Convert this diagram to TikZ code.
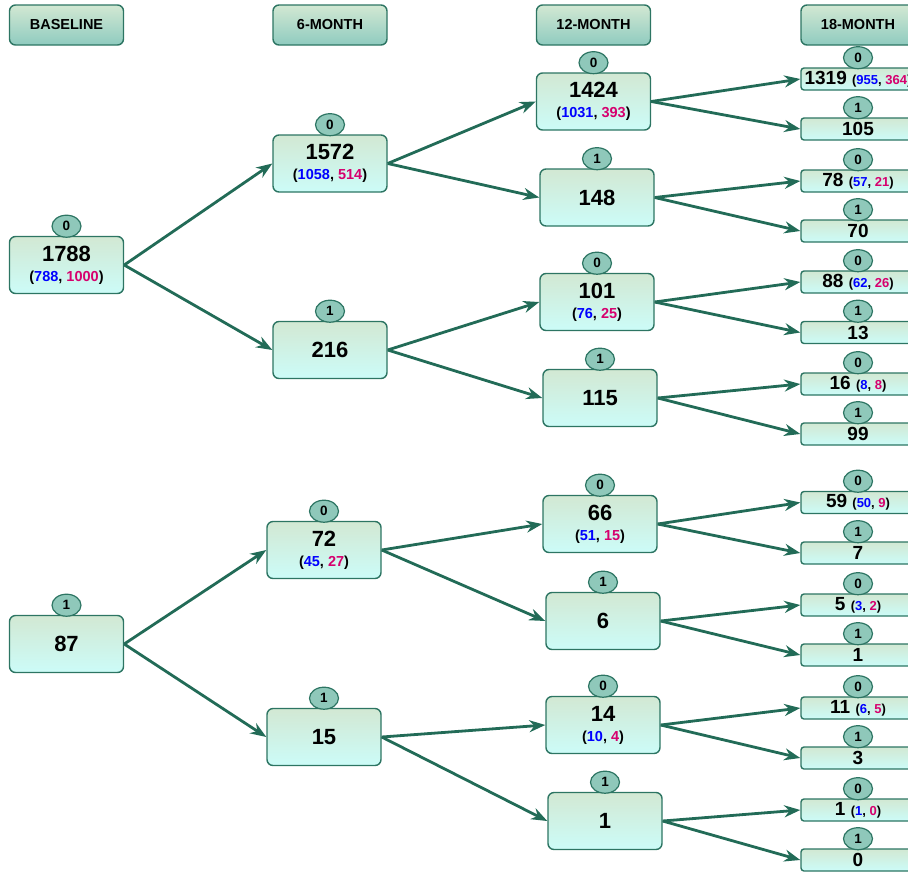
\documentclass[tikz,border=0pt]{standalone}
\usepackage{fontspec}
\setmainfont{Liberation Sans}
\usetikzlibrary{arrows.meta,shapes.geometric}
\definecolor{edge}{HTML}{226B57}
\definecolor{rim}{HTML}{2D7563}
\definecolor{boxtop}{HTML}{D2E8D3}
\definecolor{boxbot}{HTML}{CCFCF8}
\definecolor{headbot}{HTML}{8FCBBF}
\definecolor{tagfill}{HTML}{8FC8BA}
\definecolor{cntA}{HTML}{0000FF}
\definecolor{cntB}{HTML}{D6006E}
\newcommand{\cnt}[2]{({\color{cntA}#1}, {\color{cntB}#2})}
\newcommand{\pairline}[2]{{\fontsize{14.5}{16}\selectfont\cnt{#1}{#2}}}
\newcommand{\pairsmall}[2]{{\fontsize{13}{15}\selectfont\cnt{#1}{#2}}}
\tikzset{
  stage/.style={draw=rim, line width=1.4pt, rounded corners=6pt,
    minimum width=114pt, minimum height=40pt, top color=boxtop,
    bottom color=headbot, font=\bfseries\fontsize{14.5}{16}\selectfont},
  tag/.style={ellipse, draw=rim, line width=1.2pt, fill=tagfill,
    minimum width=29pt, minimum height=22pt, inner sep=0pt,
    font=\bfseries\fontsize{13.5}{15}\selectfont},
  cell/.style={draw=rim, line width=1.4pt, rounded corners=6pt,
    minimum width=114pt, minimum height=57pt, top color=boxtop,
    bottom color=boxbot, align=center,
    font=\bfseries\fontsize{22}{24}\selectfont,
    label={[tag, label distance=-2pt]above:#1}},
  leaf/.style={cell=#1, rounded corners=3pt, minimum height=22pt,
    inner sep=0pt, font=\bfseries\fontsize{19}{20}\selectfont},
  flow/.style={-{Stealth[length=16pt,width=12pt]}, draw=edge, line width=2.8pt}
}
\begin{document}
\begin{tikzpicture}[x=1pt, y=-1pt]
  \path[use as bounding box, clip] (0,0) rectangle (908,871);
  % stage headers
  \node[stage] (h0) at (66.5,25) {BASELINE};
  \node[stage] (h1) at (330,25) {6-MONTH};
  \node[stage] (h2) at (593.5,25) {12-MONTH};
  \node[stage] (h3) at (858,25) {18-MONTH};
  % baseline
  \node[cell=0] (n0) at (66.5,265) {1788\\[-4pt]\pairline{788}{1000}};
  \node[cell=1] (n1) at (66.5,644) {87};
  % 6-month
  \node[cell=0] (n00) at (330,163.5) {1572\\[-4pt]\pairline{1058}{514}};
  \node[cell=1] (n01) at (330,350) {216};
  \node[cell=0] (n10) at (324,550) {72\\[-4pt]\pairline{45}{27}};
  \node[cell=1] (n11) at (324,737) {15};
  % 12-month
  \node[cell=0] (n000) at (593.5,101.5) {1424\\[-4pt]\pairline{1031}{393}};
  \node[cell=1] (n001) at (597,197.5) {148};
  \node[cell=0] (n010) at (597,302) {101\\[-4pt]\pairline{76}{25}};
  \node[cell=1] (n011) at (600,398) {115};
  \node[cell=0] (n100) at (600,524) {66\\[-4pt]\pairline{51}{15}};
  \node[cell=1] (n101) at (603,621) {6};
  \node[cell=0] (n110) at (603,725) {14\\[-4pt]\pairline{10}{4}};
  \node[cell=1] (n111) at (605,821) {1};
  % 18-month
  \node[leaf=0] (n0000) at (858,79) {1319 \pairsmall{955}{364}};
  \node[leaf=1] (n0001) at (858,129) {105};
  \node[leaf=0] (n0010) at (858,181) {78 \pairsmall{57}{21}};
  \node[leaf=1] (n0011) at (858,231) {70};
  \node[leaf=0] (n0100) at (858,282) {88 \pairsmall{62}{26}};
  \node[leaf=1] (n0101) at (858,332.5) {13};
  \node[leaf=0] (n0110) at (858,384) {16 \pairsmall{8}{8}};
  \node[leaf=1] (n0111) at (858,434) {99};
  \node[leaf=0] (n1000) at (858,502.5) {59 \pairsmall{50}{9}};
  \node[leaf=1] (n1001) at (858,553) {7};
  \node[leaf=0] (n1010) at (858,605) {5 \pairsmall{3}{2}};
  \node[leaf=1] (n1011) at (858,655) {1};
  \node[leaf=0] (n1100) at (858,708) {11 \pairsmall{6}{5}};
  \node[leaf=1] (n1101) at (858,758) {3};
  \node[leaf=0] (n1110) at (858,810) {1 \pairsmall{1}{0}};
  \node[leaf=1] (n1111) at (858,860) {0};
  \begin{scope}[flow]
    \draw (n0.east) -- (n00.west);
    \draw (n0.east) -- (n01.west);
    \draw (n1.east) -- (n10.west);
    \draw (n1.east) -- (n11.west);
    \draw (n00.east) -- (n000.west);
    \draw (n00.east) -- (n001.west);
    \draw (n01.east) -- (n010.west);
    \draw (n01.east) -- (n011.west);
    \draw (n10.east) -- (n100.west);
    \draw (n10.east) -- (n101.west);
    \draw (n11.east) -- (n110.west);
    \draw (n11.east) -- (n111.west);
    \draw (n000.east) -- (n0000.west);
    \draw (n000.east) -- (n0001.west);
    \draw (n001.east) -- (n0010.west);
    \draw (n001.east) -- (n0011.west);
    \draw (n010.east) -- (n0100.west);
    \draw (n010.east) -- (n0101.west);
    \draw (n011.east) -- (n0110.west);
    \draw (n011.east) -- (n0111.west);
    \draw (n100.east) -- (n1000.west);
    \draw (n100.east) -- (n1001.west);
    \draw (n101.east) -- (n1010.west);
    \draw (n101.east) -- (n1011.west);
    \draw (n110.east) -- (n1100.west);
    \draw (n110.east) -- (n1101.west);
    \draw (n111.east) -- (n1110.west);
    \draw (n111.east) -- (n1111.west);
  \end{scope}
\end{tikzpicture}
\end{document}
